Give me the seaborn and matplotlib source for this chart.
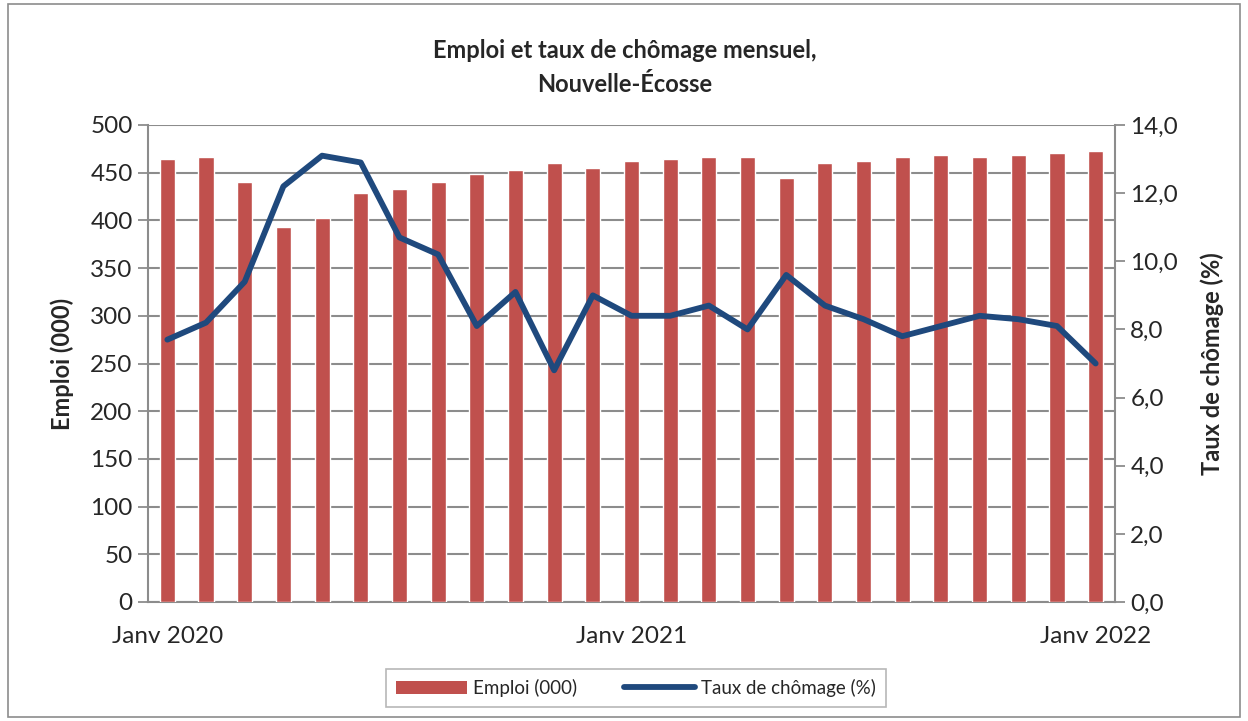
import matplotlib
matplotlib.use("Agg")
import matplotlib.pyplot as plt
import seaborn as sns
import pandas as pd
import numpy as np
from matplotlib.patches import Rectangle, Patch
from matplotlib.lines import Line2D

months = ["Janv 2020", "Févr 2020", "Mars 2020", "Avr 2020", "Mai 2020", "Juin 2020",
          "Juil 2020", "Août 2020", "Sept 2020", "Oct 2020", "Nov 2020", "Déc 2020",
          "Janv 2021", "Févr 2021", "Mars 2021", "Avr 2021", "Mai 2021", "Juin 2021",
          "Juil 2021", "Août 2021", "Sept 2021", "Oct 2021", "Nov 2021", "Déc 2021",
          "Janv 2022"]
emploi = [464, 466, 440, 393, 402, 429, 433, 440, 449, 453, 460, 455,
          462, 464, 466, 466, 444, 460, 462, 466, 469, 466, 469, 471, 473]
chomage = [7.7, 8.2, 9.4, 12.2, 13.1, 12.9, 10.7, 10.2, 8.1, 9.1, 6.8, 9.0,
           8.4, 8.4, 8.7, 8.0, 9.6, 8.7, 8.3, 7.8, 8.1, 8.4, 8.3, 8.1, 7.0]
xlabels_shown = {0: "Janv 2020", 12: "Janv 2021", 24: "Janv 2022"}

sns.set_theme(style="white")
plt.rcParams['font.family'] = ['Lato', 'DejaVu Sans']

df = pd.DataFrame({"mois": months, "emploi": emploi, "chomage": chomage,
                   "pos": np.arange(len(months))})

fig = plt.figure(figsize=(12.48, 7.21), dpi=100)
ax = fig.add_axes([148/1248, 1-602/721, (1115-148)/1248, (602-125)/721])

bar_col = "#C0504D"
line_col = "#1F497D"
grid_col = "#8C8C8C"
tick_fs = 17.5

sns.barplot(data=df, x="mois", y="emploi", color=bar_col, width=0.39,
            saturation=1, ax=ax, zorder=3)
ax.set_ylim(0, 500)
ax.set_xlim(-0.5, len(months) - 0.5)
ax.set_yticks(np.arange(0, 501, 50))
ax.yaxis.grid(True, color=grid_col, linewidth=1.5, zorder=0)
ax.set_axisbelow(True)
ax.set_xticks(list(xlabels_shown.keys()))
ax.set_xticklabels(list(xlabels_shown.values()))
ax.set_xticks(np.arange(-0.5, len(months)), minor=True)
ax.tick_params(axis="x", which="major", length=0, pad=17, labelsize=tick_fs)
ax.tick_params(axis="x", which="minor", length=7, width=1.3, color=grid_col, direction="out")
ax.tick_params(axis="y", length=7, width=1.3, color=grid_col, direction="out", labelsize=tick_fs, pad=4)
ax.set_xlabel("")
ax.set_ylabel("Emploi (000)", fontsize=17, fontweight="bold", labelpad=12)
for s in ["top", "right"]:
    ax.spines[s].set_visible(False)
for s in ["left", "bottom"]:
    ax.spines[s].set_color(grid_col)
    ax.spines[s].set_linewidth(1.5)

ax2 = ax.twinx()
sns.lineplot(data=df, x="pos", y="chomage", color=line_col, linewidth=4.2,
             ax=ax2, zorder=4)
ax2.set_ylim(0, 14)
ax2.set_xlim(-0.5, len(months) - 0.5)
ax2.set_yticks(np.arange(0, 14.1, 2))
ax2.set_yticklabels([f"{v:.1f}".replace(".", ",") for v in np.arange(0, 14.1, 2)])
ax2.tick_params(axis="y", length=7, width=1.3, color=grid_col, direction="out", labelsize=tick_fs, pad=4)
ax2.set_ylabel("Taux de chômage (%)", fontsize=17, fontweight="bold", labelpad=16)
ax2.set_xlabel("")
for s in ["top", "left", "bottom"]:
    ax2.spines[s].set_visible(False)
ax2.spines["right"].set_color(grid_col)
ax2.spines["right"].set_linewidth(1.5)
ax2.grid(False)

fig.text(625/1248, 1-50/721, "Emploi et taux de chômage mensuel,", ha="center", va="center",
         fontsize=17, fontweight="bold")
fig.text(625/1248, 1-84/721, "Nouvelle-Écosse", ha="center", va="center",
         fontsize=17, fontweight="bold")

handles = [Patch(facecolor=bar_col, edgecolor="none"),
           Line2D([0], [0], color=line_col, linewidth=4.2, solid_capstyle="round")]
leg = fig.legend(handles, ["Emploi (000)", "Taux de chômage (%)"], loc="center",
                 bbox_to_anchor=(636/1248, 1-688/721), ncol=2, frameon=True,
                 fancybox=False, edgecolor="#A6A6A6", fontsize=13.5, handlelength=3.8,
                 columnspacing=2.5, borderpad=0.55, handletextpad=0.3)
leg.get_frame().set_linewidth(1.2)

fig.patches.append(Rectangle((8/1248, 4/721), 1232/1248, 713/721, transform=fig.transFigure,
                             fill=False, edgecolor="#8C8C8C", linewidth=1.2))

fig.savefig("out.png", dpi=100)
